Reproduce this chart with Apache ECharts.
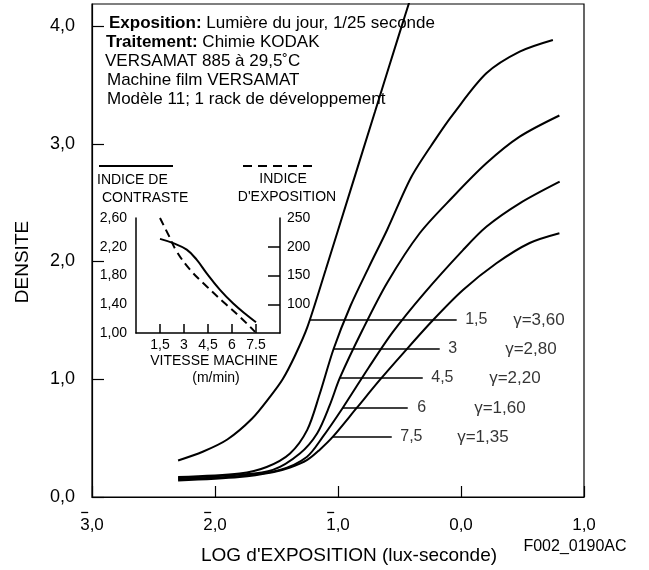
<!DOCTYPE html>
<html><head><meta charset="utf-8">
<script src="https://cdn.jsdelivr.net/npm/echarts@6/dist/echarts.min.js"></script>
<style>html,body{margin:0;padding:0;background:#fff}#c{width:649px;height:570px}</style>
</head><body><div id="c"></div><script>
// ---- main chart data (log exposure vs density), one curve per machine speed ----
const c15X = [-2.30,-2.10,-1.90,-1.70,-1.55,-1.45,-1.35,-1.25,-1.10,-0.90,-0.70,-0.50,-0.40];
const c15Y = [0.31,0.384,0.488,0.664,0.855,1.00,1.20,1.44,1.93,2.60,3.27,3.94,4.27];
const c3X = [-2.30,-1.80,-1.58,-1.39,-1.25,-1.15,-1.036,-0.90,-0.75,-0.60,-0.403,-0.20,-0.065,0.206,0.477,0.747];
const c3Y = [0.17,0.20,0.255,0.37,0.57,0.87,1.257,1.62,1.95,2.27,2.72,3.05,3.25,3.598,3.782,3.881];
const c45X = [-2.30,-1.80,-1.53,-1.31,-1.17,-1.067,-0.985,-0.80,-0.60,-0.336,-0.065,0.206,0.477,0.80];
const c45Y = [0.16,0.19,0.23,0.37,0.54,0.78,1.011,1.42,1.82,2.24,2.55,2.834,3.06,3.24];
const c6X = [-2.30,-1.80,-1.473,-1.254,-1.124,-0.962,-0.75,-0.555,-0.30,0.016,0.206,0.477,0.802];
const c6Y = [0.15,0.178,0.23,0.34,0.51,0.756,1.10,1.40,1.73,2.097,2.295,2.494,2.678];
const c75X = [-2.30,-1.80,-1.53,-1.39,-1.25,-1.15,-1.043,-0.848,-0.66,-0.471,-0.227,0.016,0.288,0.558,0.80];
const c75Y = [0.14,0.17,0.21,0.25,0.315,0.40,0.51,0.756,0.994,1.22,1.503,1.758,1.985,2.157,2.24];

// leader lines and labels (speed m/min and gamma)
const speedLabels = ['1,5','3','4,5','6','7,5'];
const gammaLabels = ['\u03b3=3,60','\u03b3=2,80','\u03b3=2,20','\u03b3=1,60','\u03b3=1,35'];
const leaderY = [1.503,1.257,1.011,0.756,0.510];
const leaderStartX = [-1.23,-1.036,-0.985,-0.962,-1.043];
const leaderEndX = [-0.035,-0.173,-0.311,-0.433,-0.563];
const speedLabelX = [0.030,-0.108,-0.246,-0.360,-0.498];
const gammaLabelX = [0.420,0.355,0.225,0.103,-0.035];

// axis ticks / labels
const xTickValues = [-3,-2,-1,0,1];
const xTickText = ['3,0','2,0','1,0','0,0','1,0'];
const xTickNegative = [true,true,true,false,false];
const yTickValues = [0,1,2,3,4];

// ---- inset data (machine speed, m/min) ----
const insetTickValues = [1.5,3,4.5,6,7.5];
const insetTickText = ['1,5','3','4,5','6','7.5'];
const contrastTicks = [1.0,1.4,1.8,2.2,2.6];
const exposureTicks = [100,150,200];
const exposureLabels = [100,150,200,250];
const contrastX = [1.5,2.33,3.17,3.79,4.42,5.25,6.08,6.92,7.5];
const contrastY = [2.31,2.25,2.16,2.02,1.83,1.60,1.41,1.25,1.15];
const exposureX = [1.5,2.02,2.54,3.38,4.42,5.46,6.5,7.44];
const exposureY = [250,221,192,160,131,104,78,52];

const FONT = '"Liberation Sans", Arial, Helvetica, sans-serif';
const pts = (xs, ys) => xs.map((x, i) => [x, ys[i]]);

const chart = echarts.init(document.getElementById('c'), null, {renderer: 'canvas'});

const mainCurve = (xs, ys) => ({
  type: 'line', xAxisIndex: 0, yAxisIndex: 0, data: pts(xs, ys),
  smooth: 0.3, showSymbol: false, symbol: 'none', clip: true, silent: true,
  lineStyle: {color: '#000', width: 2}
});

const series = [
  mainCurve(c15X, c15Y), mainCurve(c3X, c3Y), mainCurve(c45X, c45Y),
  mainCurve(c6X, c6Y), mainCurve(c75X, c75Y)
];
leaderY.forEach((y, i) => {
  series.push({
    type: 'line', xAxisIndex: 0, yAxisIndex: 0, silent: true, symbol: 'none',
    data: [[leaderStartX[i], y], [leaderEndX[i], y]],
    lineStyle: {color: '#000', width: 1.5}
  });
});
const labelSeries = (xs, texts, size) => ({
  type: 'scatter', xAxisIndex: 0, yAxisIndex: 0, silent: true, symbolSize: 1,
  itemStyle: {color: 'rgba(0,0,0,0)'},
  data: xs.map((x, i) => ({value: [x, leaderY[i]], name: texts[i]})),
  label: {show: true, position: 'right', distance: 0, formatter: p => p.name,
    color: '#000', fontSize: size, fontFamily: FONT}
});
series.push(labelSeries(speedLabelX, speedLabels, 16));
series.push(labelSeries(gammaLabelX, gammaLabels, 17));

series.push({
  type: 'line', xAxisIndex: 1, yAxisIndex: 1, data: pts(contrastX, contrastY),
  smooth: 0.4, symbol: 'none', silent: true, lineStyle: {color: '#000', width: 2}
});
series.push({
  type: 'line', xAxisIndex: 1, yAxisIndex: 2, data: pts(exposureX, exposureY),
  smooth: 0.4, symbol: 'none', silent: true,
  lineStyle: {color: '#000', width: 2, type: [8, 5]}
});

const txt = (x, y, text, opts) => ({
  type: 'text', x: x, y: y, silent: true,
  style: Object.assign({text: text, fill: '#000', fontSize: 17, fontFamily: FONT,
    align: 'left', verticalAlign: 'middle'}, (opts || {}))
});
const boldRich = {b: {fontWeight: 'bold', fontSize: 17, fontFamily: FONT}};

const graphic = [
  txt(109, 23, '{b|Exposition:} Lumière du jour, 1/25 seconde', {rich: boldRich}),
  txt(106, 42, '{b|Traitement:} Chimie KODAK', {rich: boldRich}),
  txt(105, 61, 'VERSAMAT 885 à 29,5˚C'),
  txt(107, 80, 'Machine film VERSAMAT'),
  txt(107, 99, 'Modèle 11; 1 rack de développement'),
  // inset legend
  {type: 'line', silent: true, shape: {x1: 99, y1: 166, x2: 173, y2: 166}, style: {stroke: '#000', lineWidth: 2}},
  {type: 'line', silent: true, shape: {x1: 243, y1: 166, x2: 317, y2: 166}, style: {stroke: '#000', lineWidth: 2, lineDash: [9, 6]}},
  txt(97, 180, 'INDICE DE', {fontSize: 14}),
  txt(102, 198, 'CONTRASTE', {fontSize: 14}),
  txt(283, 179, 'INDICE', {fontSize: 14, align: 'center'}),
  txt(287, 197, "D'EXPOSITION", {fontSize: 14, align: 'center'}),
  txt(214, 361, 'VITESSE MACHINE', {fontSize: 14, align: 'center'}),
  txt(216, 378, '(m/min)', {fontSize: 14, align: 'center'}),
  // axis names
  {type: 'text', silent: true, x: 23, y: 262, rotation: Math.PI / 2,
    style: {text: 'DENSITE', fill: '#000', fontSize: 19, fontFamily: FONT, align: 'center', verticalAlign: 'middle'}},
  txt(349, 556, "LOG d'EXPOSITION (lux-seconde)", {fontSize: 19, align: 'center'}),
  txt(575, 547, 'F002_0190AC', {fontSize: 16, align: 'center'})
];

const xLabelFormatter = v => {
  const i = xTickValues.findIndex(t => Math.abs(t - v) < 1e-6);
  if (i < 0) return '';
  const t = xTickText[i];
  if (xTickNegative[i]) return '{l| }{bar| }{r| }{p|' + t.slice(1) + '}\n{n|' + t + '}';
  return '{p|' + t + '}\n{n|' + t + '}';
};

chart.setOption({
  animation: false,
  backgroundColor: '#fff',
  grid: [
    {left: 92, right: 65, top: 4, bottom: 73, show: true, borderColor: '#000', borderWidth: 1.2, backgroundColor: 'transparent'},
    {left: 136, top: 218, width: 144, height: 115}
  ],
  xAxis: [
    {type: 'value', gridIndex: 0, min: -3, max: 1, interval: 1,
      axisLine: {show: true, onZero: false, lineStyle: {color: '#000', width: 1.2}},
      axisTick: {show: true, inside: true, length: 11, customValues: xTickValues, lineStyle: {color: '#000', width: 1.2}},
      splitLine: {show: false},
      axisLabel: {color: '#000', fontSize: 17, fontFamily: FONT, margin: 13, customValues: xTickValues,
        formatter: xLabelFormatter,
        rich: {
          l: {width: 1, fontSize: 4, lineHeight: 5},
          bar: {width: 7, height: 1.3, fontSize: 4, lineHeight: 5, backgroundColor: '#000'},
          r: {width: 1.45, fontSize: 4, lineHeight: 5},
          p: {fontSize: 17, fontFamily: FONT, color: 'rgba(0,0,0,0)', lineHeight: 5},
          n: {fontSize: 17, fontFamily: FONT, color: '#000', lineHeight: 20}
        }}},
    {type: 'value', gridIndex: 1, min: 0, max: 9, interval: 1.5,
      axisLine: {show: true, onZero: false, lineStyle: {color: '#000', width: 1.5}},
      axisTick: {show: true, inside: true, length: 9, customValues: insetTickValues, lineStyle: {color: '#000', width: 1.5}},
      splitLine: {show: false},
      axisLabel: {color: '#000', fontSize: 14, fontFamily: FONT, margin: 5, customValues: insetTickValues,
        formatter: v => {
          const i = insetTickValues.findIndex(t => Math.abs(t - v) < 1e-6);
          return i < 0 ? '' : insetTickText[i];
        }}}
  ],
  yAxis: [
    {type: 'value', gridIndex: 0, min: 0, max: 4.187, interval: 1,
      axisLine: {show: true, onZero: false, lineStyle: {color: '#000', width: 1.2}},
      axisTick: {show: true, inside: true, length: 12, customValues: yTickValues, lineStyle: {color: '#000', width: 1.2}},
      splitLine: {show: false},
      axisLabel: {color: '#000', fontSize: 18, fontFamily: FONT, margin: 17, customValues: yTickValues,
        formatter: v => v.toFixed(1).replace('.', ',')}},
    {type: 'value', gridIndex: 1, min: 1, max: 2.6, interval: 0.4,
      axisLine: {show: true, onZero: false, lineStyle: {color: '#000', width: 1.5}},
      axisTick: {show: false}, splitLine: {show: false},
      axisLabel: {color: '#000', fontSize: 14, fontFamily: FONT, margin: 9, customValues: contrastTicks,
        formatter: v => v.toFixed(2).replace('.', ',')}},
    {type: 'value', gridIndex: 1, position: 'right', min: 50, max: 250, interval: 50,
      axisLine: {show: true, onZero: false, lineStyle: {color: '#000', width: 1.5}},
      axisTick: {show: true, inside: true, length: 12, customValues: exposureTicks, lineStyle: {color: '#000', width: 1.5}},
      splitLine: {show: false},
      axisLabel: {color: '#000', fontSize: 14, fontFamily: FONT, margin: 7, customValues: exposureLabels,
        formatter: v => String(v)}}
  ],
  series: series,
  graphic: graphic
});
</script></body></html>
